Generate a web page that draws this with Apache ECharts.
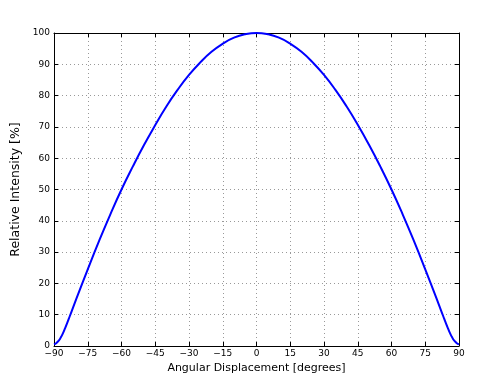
<!DOCTYPE html>
<html>
<head>
<meta charset="utf-8">
<script src="https://cdn.jsdelivr.net/npm/echarts@6/dist/echarts.min.js"></script>
<style>html,body{margin:0;padding:0;background:#fff}#c{width:500px;height:384px}</style>
</head>
<body>
<div id="c"></div>
<script>
var angles = [-90,-89,-88,-87,-86,-85,-84,-83,-82,-80,-75,-70,-65,-60,-55,-50,-45,-40,-35,-30,-25,-20,-15,-10,-5,0,5,10,15,20,25,30,35,40,45,50,55,60,65,70,75,80,82,83,84,85,86,87,88,89,90];
var intensity = [0.5,0.9,1.6,2.7,4.1,5.8,7.6,9.5,11.4,15.2,24.5,33.5,42.0,50,57.3,64.2,70.6,76.6,81.9,86.6,90.6,94,96.6,98.5,99.6,100,99.6,98.5,96.6,94,90.6,86.6,81.9,76.6,70.7,64.3,57.4,50,42.0,33.5,24.5,15.2,11.4,9.5,7.6,5.8,4.1,2.7,1.6,0.9,0.5];
var xTicks = [-90,-75,-60,-45,-30,-15,0,15,30,45,60,75,90];
var yTicks = [0,10,20,30,40,50,60,70,80,90,100];

var font = 'DejaVu Sans';
var gridLine = {show:true,lineStyle:{color:'#999',type:[1,3],width:1}};
var axisLine = {show:true,onZero:false,lineStyle:{color:'#000',width:1}};
var tick = {show:true,inside:true,length:4,lineStyle:{color:'#000'}};
var data = angles.map(function(a,i){return [a,intensity[i]];});
function fmt(v){return v<0 ? '\u2212'+Math.abs(v) : String(v);}

var chart = echarts.init(document.getElementById('c'),null,{renderer:'canvas'});
chart.setOption({
  animation:false,
  backgroundColor:'#fff',
  grid:{left:54,right:41,top:33,bottom:38,containLabel:false},
  xAxis:[{
    type:'value',min:-90,max:90,interval:15,position:'bottom',
    name:'Angular Displacement [degrees]',nameLocation:'middle',nameGap:13,
    nameTextStyle:{fontFamily:font,fontSize:11,color:'#000',verticalAlign:'top'},
    axisLine:axisLine,axisTick:tick,splitLine:gridLine,
    axisLabel:{fontFamily:font,fontSize:9,color:'#000',margin:3,formatter:fmt}
  },{
    type:'value',min:-90,max:90,interval:15,position:'top',
    axisLine:axisLine,axisTick:tick,splitLine:{show:false},axisLabel:{show:false}
  }],
  yAxis:[{
    type:'value',min:0,max:100,interval:10,position:'left',
    name:'Relative Intensity [%]',nameLocation:'middle',nameGap:25,
    nameTextStyle:{fontFamily:font,fontSize:12.5,color:'#000'},
    axisLine:axisLine,axisTick:tick,splitLine:gridLine,
    axisLabel:{fontFamily:font,fontSize:9,color:'#000',margin:4}
  },{
    type:'value',min:0,max:100,interval:10,position:'right',
    axisLine:axisLine,axisTick:tick,splitLine:{show:false},axisLabel:{show:false}
  }],
  series:[{
    type:'line',data:data,smooth:0.5,showSymbol:false,
    lineStyle:{color:'#0000ff',width:2},
    xAxisIndex:0,yAxisIndex:0
  }]
});
</script>
</body>
</html>
